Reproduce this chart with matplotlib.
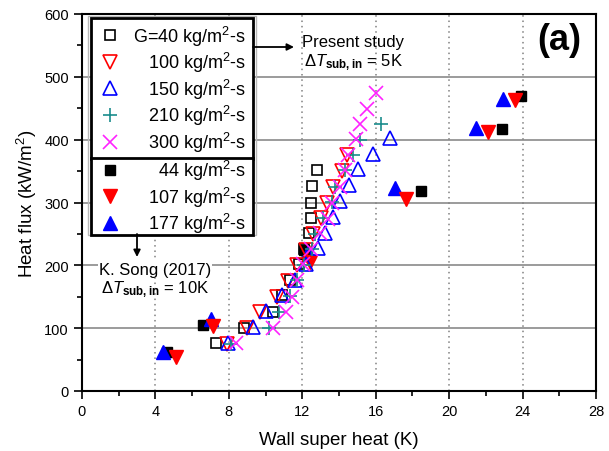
import matplotlib
matplotlib.use('Agg')
import matplotlib.pyplot as plt
from matplotlib.patches import Rectangle
from matplotlib.ticker import MultipleLocator

plt.rcParams['font.family'] = ['Liberation Sans', 'DejaVu Sans']
plt.rcParams['mathtext.fontset'] = 'custom'
plt.rcParams['mathtext.rm'] = 'Liberation Sans'
plt.rcParams['mathtext.it'] = 'Liberation Sans:italic'
plt.rcParams['mathtext.bf'] = 'Liberation Sans:bold'

# ---------------- data: present study (dT_sub,in = 5K) ----------------
g40_x = [7.3, 8.8, 10.4, 10.9, 11.35, 11.8, 12.1, 12.35, 12.45, 12.45, 12.55, 12.8]
g40_y = [76, 100, 126, 152, 176, 202, 226, 251, 276, 300, 326, 351]

g100_x = [7.9, 9.0, 9.7, 10.6, 11.2, 11.7, 12.2, 12.6, 13.0, 13.35, 13.7, 14.15, 14.45]
g100_y = [75, 100, 125, 150, 175, 200, 225, 250, 275, 300, 325, 350, 375]

g150_x = [7.95, 9.3, 10.05, 10.88, 11.6, 12.2, 12.84, 13.24, 13.68, 14.08, 14.57, 15.04, 15.83, 16.78]
g150_y = [77, 102, 128, 152, 177, 202, 227, 252, 277, 303, 328, 353, 377, 402]

g210_x = [8.1, 10.2, 10.75, 11.35, 11.7, 12.1, 12.55, 12.7, 13.15, 13.6, 13.8, 14.35, 14.75, 15.15, 16.3]
g210_y = [75, 100, 125, 151, 176, 200, 226, 250, 276, 301, 325, 351, 376, 400, 425]

g300_x = [8.4, 10.43, 11.13, 11.43, 11.7, 12.02, 12.5, 12.97, 13.42, 13.64, 14.06, 14.33, 14.5, 14.93, 15.15, 15.5, 16.02]
g300_y = [76, 100, 125, 150, 176, 202, 226, 252, 274, 300, 324, 351, 376, 401, 425, 449, 475]

# ---------------- data: K. Song (2017) (dT_sub,in = 10K) ----------------
s44_x = [4.65, 6.6, 12.1, 18.46, 22.9, 23.92]
s44_y = [62, 105, 224, 318, 417, 470]

s107_x = [5.1, 7.16, 12.43, 17.66, 22.09, 23.6]
s107_y = [54, 103, 205, 305, 412, 463]

s177_x = [4.43, 7.03, 12.3, 17.06, 21.47, 22.96]
s177_y = [62, 115, 221, 323, 418, 465]

present_labels = ['G=40 kg/m$^2$-s', '100 kg/m$^2$-s', '150 kg/m$^2$-s',
                  '210 kg/m$^2$-s', '300 kg/m$^2$-s']
song_labels = ['44 kg/m$^2$-s', '107 kg/m$^2$-s', '177 kg/m$^2$-s']

x_ticks = [0, 4, 8, 12, 16, 20, 24, 28]
y_ticks = [0, 100, 200, 300, 400, 500, 600]

# ---------------- figure ----------------
W, H = 609, 452
fig = plt.figure(figsize=(W / 100, H / 100), dpi=100)
L, R, T, B = 82, 596, 15, 392
ax = fig.add_axes([L / W, 1 - B / H, (R - L) / W, (B - T) / H])

red = '#ff0000'
blue = '#0000ff'
teal = '#1a8c8c'
mag = '#ff22ff'

h_s44, = ax.plot(s44_x, s44_y, ls='none', marker='s', ms=7, mfc='k', mec='k', zorder=3, label=song_labels[0])
h_s177, = ax.plot(s177_x, s177_y, ls='none', marker='^', ms=10, mfc=blue, mec=blue, zorder=3, label=song_labels[2])
h_s107, = ax.plot(s107_x, s107_y, ls='none', marker='v', ms=10, mfc=red, mec=red, zorder=3, label=song_labels[1])

h40, = ax.plot(g40_x, g40_y, ls='none', marker='s', ms=7, mfc='none', mec='k', mew=1.2, zorder=4, label=present_labels[0])
h100, = ax.plot(g100_x, g100_y, ls='none', marker='v', ms=9.5, mfc='none', mec=red, mew=1.2, zorder=4, label=present_labels[1])
h150, = ax.plot(g150_x, g150_y, ls='none', marker='^', ms=9.5, mfc='none', mec=blue, mew=1.2, zorder=4, label=present_labels[2])
h210, = ax.plot(g210_x, g210_y, ls='none', marker='+', ms=10, mfc='none', mec=teal, mew=1.2, zorder=4, label=present_labels[3])
h300, = ax.plot(g300_x, g300_y, ls='none', marker='x', ms=9.5, mfc='none', mec=mag, mew=1.2, zorder=4, label=present_labels[4])

ax.set_xlim(x_ticks[0], x_ticks[-1])
ax.set_ylim(y_ticks[0], y_ticks[-1])
ax.set_xticks(x_ticks)
ax.set_yticks(y_ticks)
ax.xaxis.set_minor_locator(MultipleLocator(2))
ax.yaxis.set_minor_locator(MultipleLocator(50))
ax.tick_params(which='major', direction='out', length=6, width=1.2, labelsize=10.5, top=False, right=False)
ax.tick_params(which='minor', direction='out', length=3.5, width=1.2, top=False, right=False)
for s in ax.spines.values():
    s.set_linewidth(1.5)

ax.set_axisbelow(True)
ax.yaxis.grid(True, which='major', color='#808080', lw=1.1, ls='-')
ax.xaxis.grid(True, which='major', color='#808080', lw=1.1, ls=(0, (1, 2.5)))

ax.set_xlabel('Wall super heat (K)', fontsize=13.5, labelpad=9)
ax.set_ylabel('Heat flux (kW/m$^2$)', fontsize=13.5, labelpad=4)

# ---------------- legends ----------------
lx0 = (91 - L) / (R - L)
lw_ = (253 - 91) / (R - L)
top1 = 1 - (19 - T) / (B - T)
top2 = 1 - (159 - T) / (B - T)

common = dict(loc='upper left', mode='expand', borderaxespad=0, fontsize=13,
              frameon=True, fancybox=False, edgecolor='k', framealpha=1,
              labelspacing=0.14, handletextpad=0.8)
leg1 = ax.legend(handles=[h40, h100, h150, h210, h300],
                 bbox_to_anchor=(lx0, top1 - 0.5, lw_, 0.5), borderpad=0.3,
                 handlelength=1.5, **common)
leg1.get_frame().set_linewidth(2)
ax.add_artist(leg1)
leg2 = ax.legend(handles=[h_s44, h_s107, h_s177],
                 bbox_to_anchor=(lx0, top2 - 0.5, lw_, 0.5), borderpad=0.0,
                 handlelength=2.1, **common)
leg2.get_frame().set_linewidth(2)
leg1.set_zorder(6)
leg2.set_zorder(6)

# right-align the legend labels
fig.canvas.draw()
rend = fig.canvas.get_renderer()
target_right = 246
for leg in (leg1, leg2):
    for t in leg.get_texts():
        bb = t.get_window_extent(rend)
        t.set_position((target_right - bb.x1, 0))

ax.add_patch(Rectangle(((88 - L) / (R - L), (B - 236) / (B - T)),
                       (256 - 88) / (R - L), (236 - 17) / (B - T),
                       transform=ax.transAxes, fill=False, ec='#b8b8b8', lw=1,
                       zorder=5, clip_on=False))

# ---------------- annotations ----------------
def ax_xy(px, py):
    return ((px - L) / (R - L), (B - py) / (B - T))

ax.annotate('', xy=ax_xy(294, 48), xytext=ax_xy(253, 48), xycoords='axes fraction',
            textcoords='axes fraction',
            arrowprops=dict(arrowstyle='-|>', color='k', lw=1.3, mutation_scale=10,
                            shrinkA=0, shrinkB=0), zorder=7)
ax.text(*ax_xy(302, 42), 'Present study', transform=ax.transAxes, fontsize=12,
        ha='left', va='center', zorder=7)
ax.text(*ax_xy(354, 63), r'$\Delta\mathit{T}_{\mathbf{sub,in}}$ = 5K', transform=ax.transAxes,
        fontsize=12, ha='center', va='center', zorder=7)

ax.annotate('', xy=ax_xy(137, 258), xytext=ax_xy(137, 235), xycoords='axes fraction',
            textcoords='axes fraction',
            arrowprops=dict(arrowstyle='-|>', color='k', lw=1.3, mutation_scale=10,
                            shrinkA=0, shrinkB=0), zorder=7)
ax.text(*ax_xy(155, 270), 'K. Song (2017)', transform=ax.transAxes, fontsize=12,
        ha='center', va='center', zorder=7,
        bbox=dict(facecolor='white', edgecolor='none', pad=1))
ax.text(*ax_xy(155, 290), r'$\Delta\mathit{T}_{\mathbf{sub,in}}$ = 10K', transform=ax.transAxes,
        fontsize=12, ha='center', va='center', zorder=7)

ax.text(*ax_xy(559, 41), '(a)', transform=ax.transAxes, fontsize=26, fontweight='bold',
        ha='center', va='center', zorder=7)

fig.savefig('out.png', dpi=100)
